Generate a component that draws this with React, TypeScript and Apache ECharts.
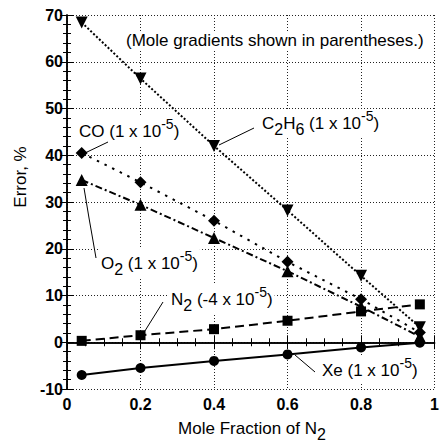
import React, { useEffect, useRef } from "react";
import * as echarts from "echarts";

const moleFraction = [0.04, 0.2, 0.4, 0.6, 0.8, 0.96];
const c2h6 = [68.4, 56.4, 42.0, 28.2, 14.2, 3.2];
const co = [40.5, 34.2, 26.0, 17.2, 9.2, 2.1];
const o2 = [34.7, 29.4, 22.3, 15.2, 7.6, 1.2];
const n2 = [0.3, 1.5, 2.8, 4.6, 6.6, 8.1];
const xe = [-7.0, -5.5, -4.0, -2.6, -1.1, -0.1];
const xTicks = [0, 0.2, 0.4, 0.6, 0.8, 1];
const yTicks = [-10, 0, 10, 20, 30, 40, 50, 60, 70];

const FONT = "'Liberation Sans', Arial, Helvetica, sans-serif";

const pairs = (ys: number[]) => moleFraction.map((x, i) => [x, ys[i]]);

const rich = {
  n: { fontSize: 17, lineHeight: 28, verticalAlign: "middle", fontFamily: FONT, color: "#000" },
  s: { fontSize: 16, lineHeight: 15, verticalAlign: "bottom", fontFamily: FONT, color: "#000" },
  p: { fontSize: 14, lineHeight: 13, verticalAlign: "top", fontFamily: FONT, color: "#000" },
};

const label = (x: number, y: number, text: string) => ({
  type: "text",
  x,
  y,
  style: {
    text,
    rich,
    textAlign: "left",
    textVerticalAlign: "middle",
    fontFamily: FONT,
    fontSize: 17,
    fill: "#000",
    backgroundColor: "#fff",
    padding: [0, 2, 0, 2],
  },
  z: 100,
});

const leader = (pts: number[][]) => ({
  type: "polyline",
  shape: { points: pts },
  style: { stroke: "#000", lineWidth: 1, fill: "none" },
  z: 101,
});

export default function App() {
  const ref = useRef<HTMLDivElement>(null);
  useEffect(() => {
    if (!ref.current) return;
    document.documentElement.style.overflow = "hidden";
    document.body.style.margin = "0";
    document.body.style.overflow = "hidden";
    const chart = echarts.init(ref.current, null, { renderer: "svg" });
    const black = "#000";
    const axisCommon = {
      axisLine: { show: true, lineStyle: { color: black, width: 1.5 } },
      axisTick: { show: true, inside: true, length: 7, lineStyle: { color: black, width: 1 } },
      minorTick: { show: true, length: 4, lineStyle: { color: black, width: 1 } },
    };
    const split = { show: true, lineStyle: { color: "#222", type: [1, 2], width: 1 } };
    const labelStyle = {
      color: black,
      fontSize: 16,
      fontFamily: FONT,
      fontWeight: "bold",
    };
    const lineSeries = (name: string, ys: number[], symbol: string, size: number, lineType: any, extra: any = {}) => ({
      name,
      type: "line",
      data: pairs(ys),
      symbol,
      symbolSize: size,
      itemStyle: { color: black },
      lineStyle: { color: black, width: 2, type: lineType },
      z: 10,
      ...extra,
    });
    chart.setOption({
      animation: false,
      backgroundColor: "#fff",
      grid: { left: 67, right: 1, top: 15, bottom: 54 },
      xAxis: [
        {
          type: "value",
          min: xTicks[0],
          max: xTicks[xTicks.length - 1],
          interval: 0.2,
          position: "bottom",
          ...axisCommon,
          minorTick: { ...axisCommon.minorTick, splitNumber: 4 },
          splitLine: split,
          axisLabel: {
            ...labelStyle,
            margin: 7,
            formatter: (v: number) => (v === 0 || v === 1 ? String(v) : v.toFixed(1)),
          },
        },
        {
          type: "value",
          min: xTicks[0],
          max: xTicks[xTicks.length - 1],
          interval: 0.2,
          position: "top",
          ...axisCommon,
          minorTick: { ...axisCommon.minorTick, splitNumber: 4 },
          splitLine: { show: false },
          axisLabel: { show: false },
        },
      ],
      yAxis: [
        {
          type: "value",
          min: yTicks[0],
          max: yTicks[yTicks.length - 1],
          interval: 10,
          position: "left",
          ...axisCommon,
          minorTick: { ...axisCommon.minorTick, splitNumber: 5 },
          splitLine: split,
          axisLabel: { ...labelStyle, margin: 4 },
        },
        {
          type: "value",
          min: yTicks[0],
          max: yTicks[yTicks.length - 1],
          interval: 10,
          position: "right",
          ...axisCommon,
          minorTick: { ...axisCommon.minorTick, splitNumber: 5 },
          splitLine: { show: false },
          axisLabel: { show: false },
        },
      ],
      series: [
        lineSeries("C2H6", c2h6, "triangle", 12, [2, 2], { symbolRotate: 180 }),
        lineSeries("CO", co, "diamond", 12, [2.5, 6]),
        lineSeries("O2", o2, "triangle", 12, [7, 3, 2, 3]),
        lineSeries("N2", n2, "rect", 10, [9, 5]),
        lineSeries("Xe", xe, "circle", 10, "solid"),
      ],
      graphic: [
        {
          type: "text",
          x: 124,
          y: 40,
          style: {
            text: "(Mole gradients shown in parentheses.)",
            fontFamily: FONT,
            fontSize: 17,
            lineHeight: 18,
            fill: "#000",
            textAlign: "left",
            textVerticalAlign: "middle",
            backgroundColor: "#fff",
            padding: [0, 2, 0, 2],
          },
          z: 100,
        },
        label(260, 123, "{n|C}{s|2}{n|H}{s|6}{n| (1 x 10}{p|-5}{n|)}"),
        leader([[254, 128], [219, 145]]),
        label(77, 131, "{n|CO (1 x 10}{p|-5}{n|)}"),
        leader([[108, 142], [85, 153]]),
        label(99, 263, "{n|O}{s|2}{n| (1 x 10}{p|-5}{n|)}"),
        leader([[96, 258], [92, 235], [89, 218], [84, 188]]),
        label(169, 299, "{n|N}{s|2}{n| (-4 x 10}{p|-5}{n|)}"),
        leader([[163, 302], [143, 334]]),
        label(320, 370, "{n|Xe (1 x 10}{p|-5}{n|)}"),
        leader([[315, 372], [295, 355]]),
        {
          type: "text",
          x: 252,
          y: 428,
          style: {
            text: "{n|Mole Fraction of N}{s|2}",
            rich,
            fontFamily: FONT,
            fontSize: 17,
            fill: "#000",
            textAlign: "center",
            textVerticalAlign: "middle",
          },
          z: 100,
        },
        {
          type: "text",
          x: 20,
          y: 177,
          rotation: Math.PI / 2,
          style: {
            text: "Error, %",
            fontFamily: FONT,
            fontSize: 17,
            fill: "#000",
            textAlign: "center",
            textVerticalAlign: "middle",
          },
          z: 100,
        },
      ],
    });
    return () => chart.dispose();
  }, []);
  return <div ref={ref} style={{ width: 442, height: 443, position: "absolute", left: 0, top: 0 }} />;
}
